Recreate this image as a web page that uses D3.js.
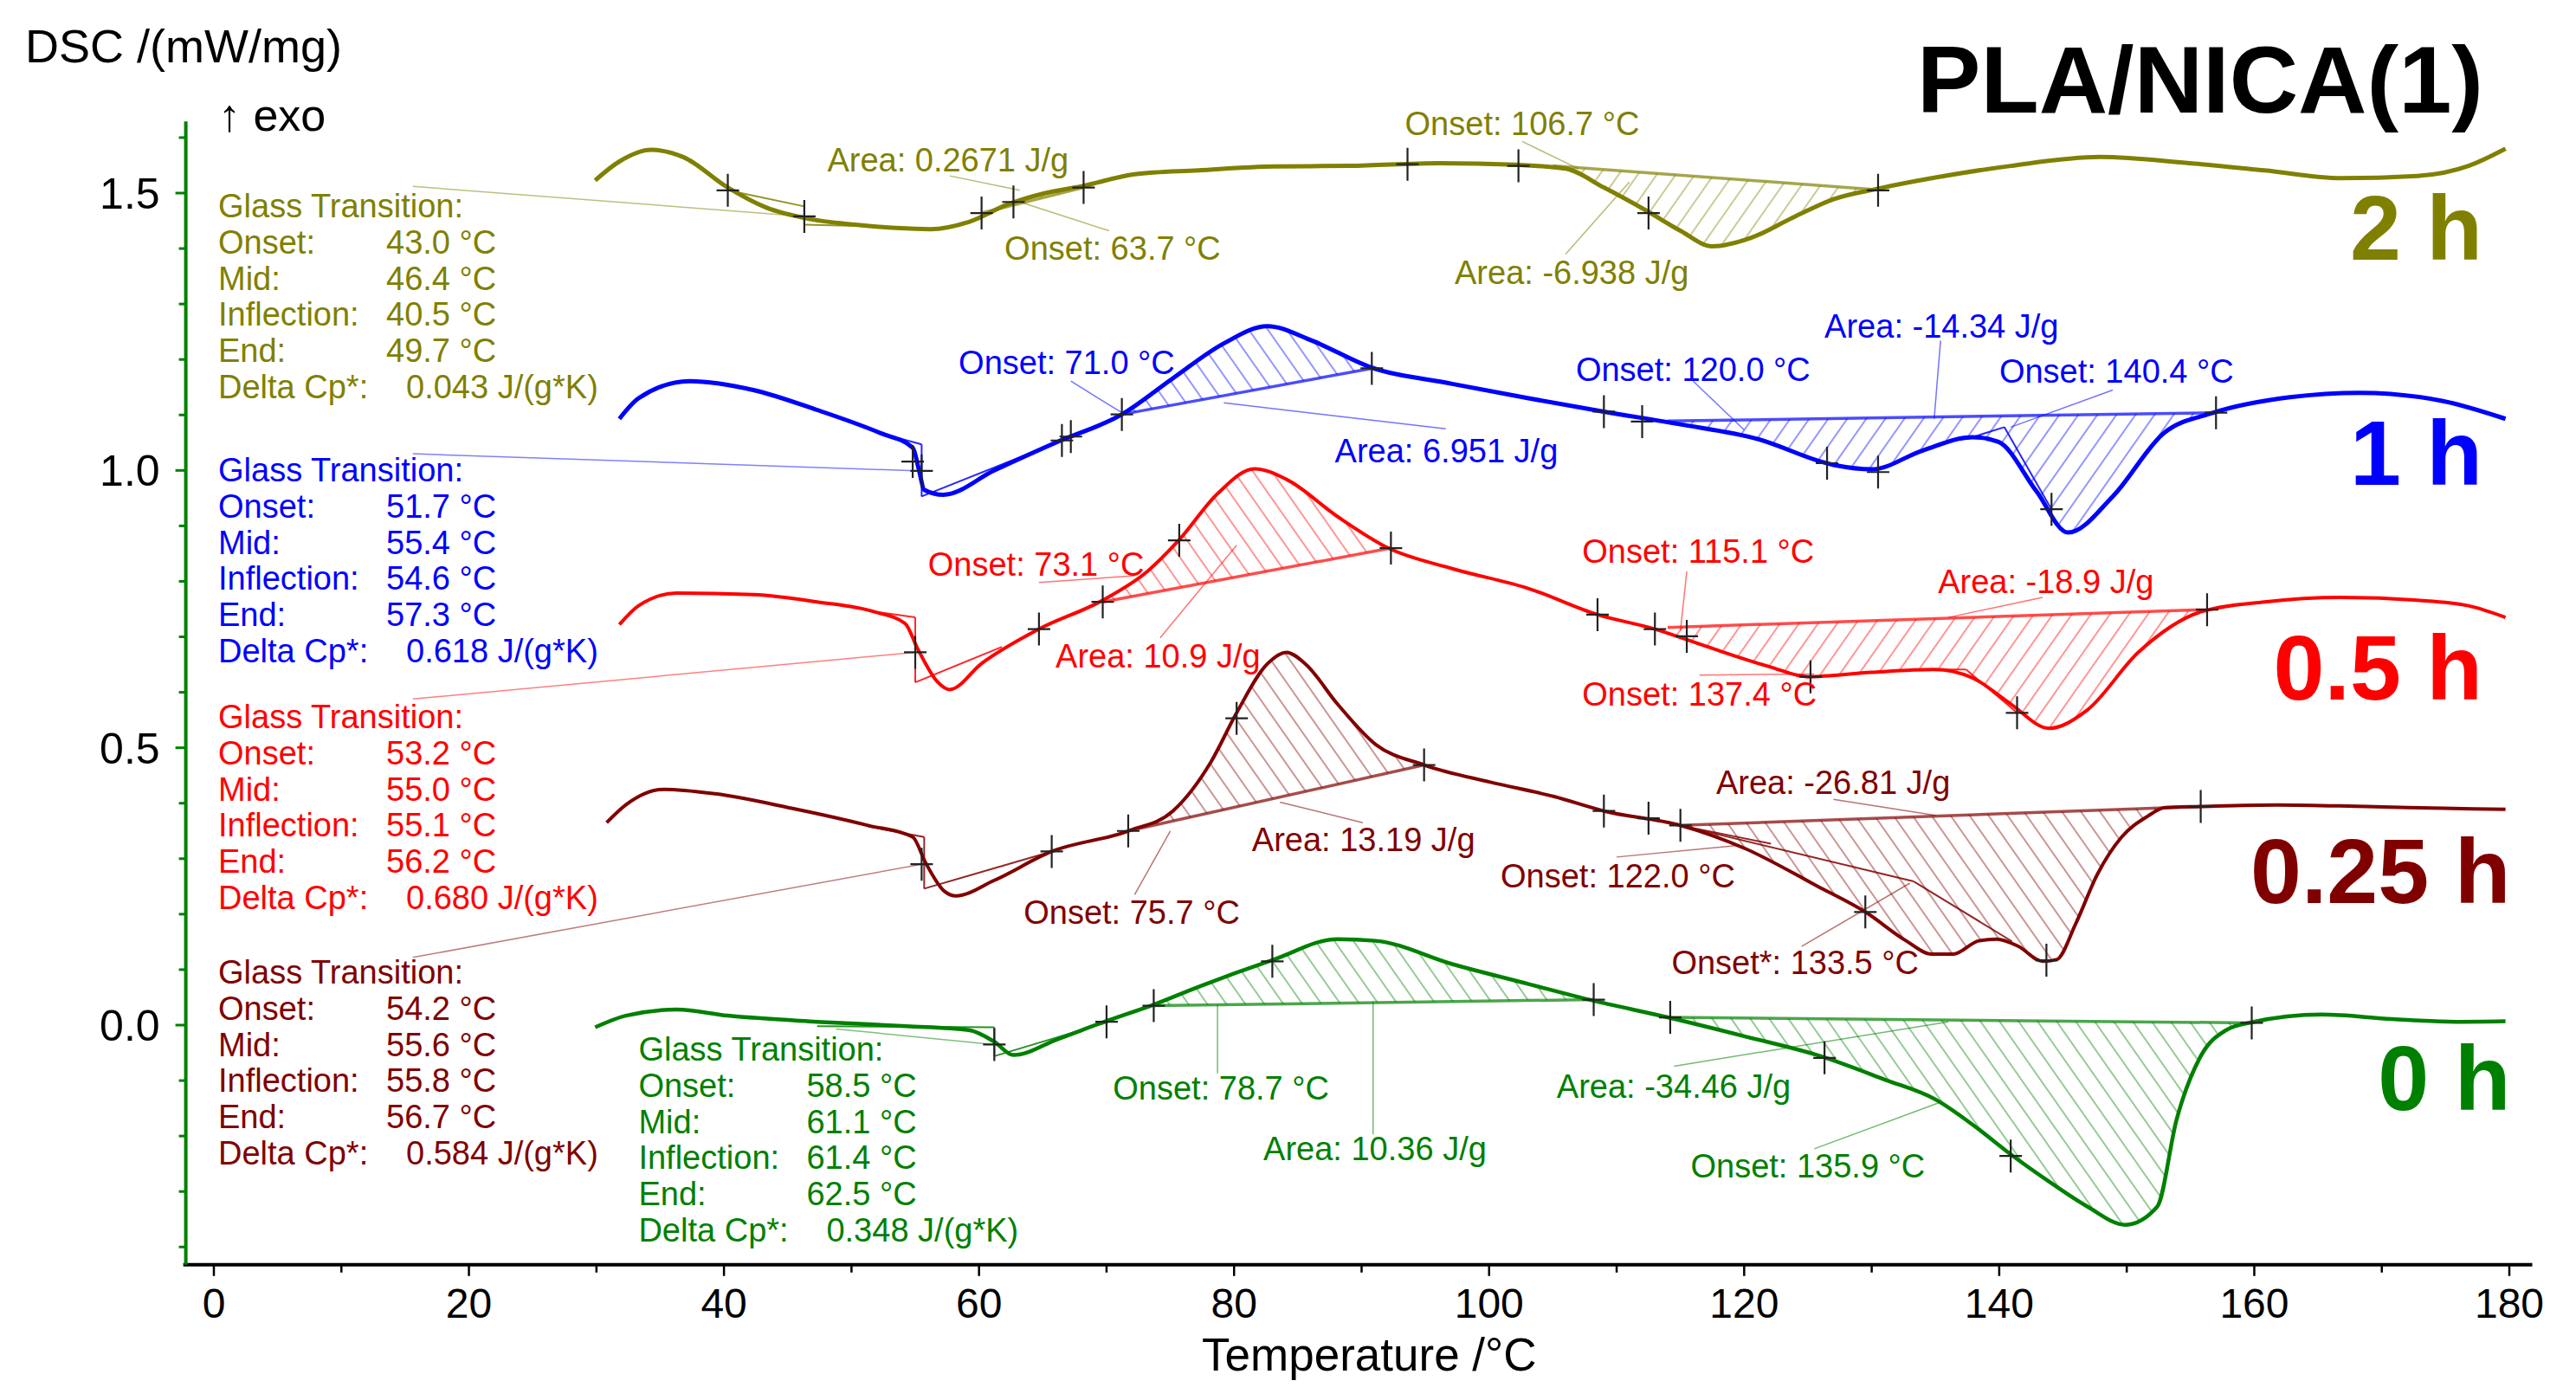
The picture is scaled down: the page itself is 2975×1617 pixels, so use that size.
<!DOCTYPE html>
<html><head><meta charset="utf-8">
<script src="https://cdn.jsdelivr.net/npm/d3@7/dist/d3.min.js"></script>
<style>
html,body{margin:0;padding:0;background:#fff;}
svg{display:block;font-family:"Liberation Sans",Arial,Helvetica,sans-serif;}
</style></head><body>
<svg id="chart" width="2975" height="1617"></svg>
<script>
// ---------------- DATA ----------------
const xTicks = d3.range(0, 181, 10);
const yTicks = d3.range(-0.4, 1.61, 0.1).map(d => Math.round(d * 10) / 10);
const gtLabels = ['Glass Transition:', 'Onset:', 'Mid:', 'Inflection:', 'End:', 'Delta Cp*:'];

// 2 h
const temp2h = [29.9,31.8,34.3,36.8,40.3,43.3,46.8,50.3,53.5,56.2,59.2,62.2,65.2,68.2,72.2,77.2,83.1,89.1,96.1,102.1,106.0,109.0,112.5,115.0,117.5,120.5,124.0,127.0,130.5,135.0,140.9,147.9,154.9,160.8,166.8,172.8,176.8,179.7];
const dsc2h  = [1.523,1.557,1.578,1.565,1.510,1.474,1.453,1.443,1.437,1.435,1.448,1.479,1.500,1.513,1.534,1.541,1.548,1.549,1.554,1.551,1.544,1.510,1.466,1.432,1.404,1.419,1.458,1.489,1.508,1.528,1.549,1.565,1.554,1.541,1.527,1.531,1.549,1.580];
// 1 h
const temp1h = [31.8,33.3,37.3,42.3,47.3,52.3,54.8,55.3,55.7,57.2,61.2,66.2,71.2,75.2,79.2,82.6,86.1,90.6,97.1,103.1,109.0,115.0,121.0,127.0,130.0,134.0,137.9,139.9,142.9,145.4,148.9,152.9,156.8,162.8,168.3,174.8,179.7];
const dsc1h  = [1.093,1.130,1.161,1.145,1.109,1.067,1.041,1.000,0.965,0.956,1.000,1.052,1.101,1.166,1.229,1.260,1.234,1.187,1.156,1.130,1.106,1.083,1.057,1.010,1.002,1.036,1.060,1.052,0.963,0.888,0.953,1.067,1.104,1.132,1.140,1.125,1.093];
// 0.5 h
const temp05h = [31.8,33.3,36.3,42.3,47.3,51.8,54.2,55.2,56.7,57.7,60.2,64.7,69.7,73.2,75.7,78.7,81.6,84.1,88.1,92.1,97.1,103.1,108.5,113.0,117.0,122.0,125.0,130.0,134.9,137.9,140.9,143.9,146.9,150.9,155.8,160.8,166.8,172.8,176.8,179.7];
const dsc05h  = [0.722,0.756,0.779,0.776,0.763,0.745,0.724,0.678,0.620,0.605,0.652,0.714,0.766,0.818,0.875,0.958,1.003,0.984,0.917,0.860,0.823,0.787,0.740,0.714,0.683,0.646,0.628,0.636,0.641,0.626,0.579,0.535,0.568,0.672,0.745,0.763,0.771,0.766,0.756,0.735];
// 0.25 h
const temp025h = [30.8,32.3,35.3,39.3,45.3,51.3,54.8,55.8,57.3,58.2,61.2,65.7,71.7,75.2,78.2,80.2,82.6,84.1,85.6,88.1,91.1,94.9,100.1,105.1,109.0,115.0,120.1,125.7,129.5,132.7,134.7,136.4,138.4,139.8,141.5,143.4,144.5,146.0,147.7,149.6,151.6,153.0,155.8,161.8,168.8,174.8,179.7];
const dsc025h  = [0.365,0.397,0.425,0.417,0.391,0.360,0.339,0.293,0.241,0.233,0.261,0.313,0.350,0.386,0.475,0.563,0.651,0.672,0.651,0.579,0.506,0.469,0.438,0.412,0.386,0.360,0.318,0.251,0.204,0.152,0.128,0.128,0.152,0.155,0.142,0.115,0.118,0.183,0.272,0.339,0.376,0.392,0.394,0.397,0.394,0.391,0.389];
// 0 h
const temp0h = [29.9,32.3,36.3,40.3,47.3,54.3,59.2,61.2,62.7,66.2,70.2,73.7,77.2,83.1,88.1,91.1,97.1,103.1,108.0,114.0,120.0,126.0,131.0,135.0,138.0,140.9,143.9,146.9,149.9,152.4,153.9,155.8,157.8,159.8,165.3,170.8,175.8,179.7];
const dsc0h  = [-0.004,0.017,0.028,0.017,0.006,-0.002,-0.009,-0.030,-0.054,-0.025,0.009,0.037,0.069,0.118,0.155,0.152,0.110,0.074,0.045,0.014,-0.020,-0.056,-0.098,-0.134,-0.181,-0.233,-0.282,-0.327,-0.360,-0.327,-0.171,-0.056,-0.009,0.005,0.019,0.011,0.006,0.007];

// evaluation markers (+) [T, DSC]
const markers2h = [[40.3,1.505],[46.3,1.458],[60.2,1.464],[62.7,1.484],[68.2,1.510],[93.6,1.552],[102.3,1.549],[112.5,1.464],[130.5,1.505]];
const markers1h = [[54.8,1.016],[55.5,0.999],[66.5,1.054],[67.2,1.061],[71.2,1.101],[90.8,1.184],[109.0,1.106],[112.0,1.088],[126.5,1.013],[130.5,0.997],[144.1,0.930],[157.0,1.104]];
const markers05h = [[55.0,0.672],[64.7,0.714],[69.7,0.763],[75.7,0.874],[92.3,0.860],[108.5,0.740],[113.0,0.714],[115.5,0.701],[125.2,0.628],[141.4,0.563],[156.3,0.749]];
const markers025h = [[55.5,0.290],[65.7,0.313],[71.7,0.350],[80.2,0.553],[94.9,0.469],[109.0,0.386],[112.5,0.373],[115.0,0.360],[129.5,0.204],[143.7,0.117],[155.8,0.394]];
const markers0h = [[61.2,-0.035],[70.0,0.006],[73.7,0.035],[83.0,0.115],[108.2,0.046],[114.2,0.014],[126.3,-0.059],[140.9,-0.236],[159.8,0.004]];

// peak areas: baseline from [T1,v1] to [T2,v2]; hatch direction
const areas2h = [[60.2,1.464,68.2,1.510,'back'],[105.0,1.549,130.5,1.506,'fwd']];
const areas1h = [[71.2,1.101,90.8,1.184,'back'],[114.0,1.089,157.0,1.104,'fwd']];
const areas05h = [[69.7,0.763,92.3,0.860,'back'],[114.0,0.717,156.3,0.749,'fwd']];
const areas025h = [[71.7,0.350,94.9,0.469,'back'],[115.0,0.360,155.8,0.394,'back']];
const areas0h = [[73.7,0.035,108.2,0.046,'back'],[114.2,0.014,159.8,0.004,'back']];

// evaluation tangent lines [[T,DSC],[T,DSC]]
const tang2h = [[[40.3,1.505],[46.3,1.476]],[[46.3,1.476],[46.3,1.443]],[[46.3,1.443],[52.0,1.440]]];
const tang1h = [[[52.3,1.067],[55.5,1.047]],[[55.5,1.047],[55.5,0.953]],[[55.5,0.953],[66.5,1.054]],[[137.9,1.060],[140.4,1.078]],[[140.4,1.078],[144.1,0.930]]];
const tang05h = [[[52.0,0.745],[55.0,0.735]],[[55.0,0.735],[55.0,0.618]],[[55.0,0.618],[61.8,0.682]],[[134.9,0.641],[137.4,0.641]],[[137.4,0.641],[141.4,0.563]]];
const tang025h = [[[51.3,0.358],[55.7,0.339]],[[55.7,0.339],[55.7,0.246]],[[55.7,0.246],[65.7,0.313]],[[115.0,0.360],[122.1,0.327]],[[115.0,0.360],[133.3,0.259]],[[133.3,0.259],[141.0,0.151]]];
const tang0h = [[[47.3,-0.002],[61.2,-0.004]],[[61.2,-0.004],[61.2,-0.056]],[[61.2,-0.056],[70.2,0.006]]];

// result labels: text, T, DSC, leader from, leader to
const notes2h = [
  ['Area: 0.2671 J/g',48.1,1.560,[57.7,1.531],[63.2,1.505]],
  ['Onset: 63.7 °C',62.0,1.401,[70.2,1.432],[63.2,1.484]],
  ['Onset: 106.7 °C',93.4,1.625,[102.6,1.593],[107.0,1.544]],
  ['Area: -6.938 J/g',97.3,1.357,[106.0,1.390],[111.0,1.520]]
];
const notes1h = [
  ['Onset: 71.0 °C',58.4,1.195,[67.2,1.161],[71.2,1.104]],
  ['Area: 6.951 J/g',87.9,1.036,[96.6,1.075],[79.2,1.122]],
  ['Onset: 120.0 °C',106.8,1.182,[116.0,1.161],[120.0,1.073]],
  ['Area: -14.34 J/g',126.3,1.260,[135.4,1.234],[134.9,1.093]],
  ['Onset: 140.4 °C',140.0,1.179,[148.9,1.145],[140.9,1.078]]
];
const notes05h = [
  ['Onset: 73.1 °C',56.0,0.831,[64.7,0.798],[72.2,0.810]],
  ['Area: 10.9 J/g',66.0,0.665,[74.2,0.698],[80.2,0.865]],
  ['Onset: 115.1 °C',107.3,0.854,[115.5,0.818],[115.0,0.711]],
  ['Area: -18.9 J/g',135.2,0.800,[143.4,0.771],[136.0,0.735]],
  ['Onset: 137.4 °C',107.3,0.597,[116.5,0.631],[125.5,0.633]]
];
const notes025h = [
  ['Area: 13.19 J/g',81.4,0.334,[90.1,0.365],[83.6,0.402]],
  ['Onset: 75.7 °C',63.5,0.204,[72.2,0.235],[75.0,0.350]],
  ['Onset: 122.0 °C',100.9,0.269,[110.0,0.303],[119.5,0.324]],
  ['Area: -26.81 J/g',117.8,0.438,[127.0,0.407],[135.0,0.378]],
  ['Onset*: 133.5 °C',114.3,0.113,[124.5,0.142],[133.0,0.256]]
];
const notes0h = [
  ['Onset: 78.7 °C',70.5,-0.113,[78.7,-0.087],[78.7,0.037]],
  ['Area: 10.36 J/g',82.3,-0.223,[90.9,-0.197],[90.9,0.043]],
  ['Area: -34.46 J/g',105.3,-0.111,[114.5,-0.074],[136.0,0.006]],
  ['Onset: 135.9 °C',115.8,-0.254,[125.5,-0.223],[135.4,-0.139]]
];

// glass transition result values
const gt2h = ['43.0 °C','46.4 °C','40.5 °C','49.7 °C','0.043 J/(g*K)'];
const gt1h = ['51.7 °C','55.4 °C','54.6 °C','57.3 °C','0.618 J/(g*K)'];
const gt05h = ['53.2 °C','55.0 °C','55.1 °C','56.2 °C','0.680 J/(g*K)'];
const gt025h = ['54.2 °C','55.6 °C','55.8 °C','56.7 °C','0.584 J/(g*K)'];
const gt0h = ['58.5 °C','61.1 °C','61.4 °C','62.5 °C','0.348 J/(g*K)'];

const series = [
  {name:'2 h', color:'#808000', sw:5, temp:temp2h, dsc:dsc2h, markers:markers2h, areas:areas2h, tang:tang2h, notes:notes2h, gt:gt2h, gtAt:[0.34,1.4765], gtLead:[[15.6,1.512],[46.3,1.458]], label:[177.9,1.380]},
  {name:'1 h', color:'#0000ff', sw:5, temp:temp1h, dsc:dsc1h, markers:markers1h, areas:areas1h, tang:tang1h, notes:notes1h, gt:gt1h, gtAt:[0.34,1.0005], gtLead:[[15.6,1.030],[55.5,0.999]], label:[177.9,0.974]},
  {name:'0.5 h', color:'#ff0000', sw:4, temp:temp05h, dsc:dsc05h, markers:markers05h, areas:areas05h, tang:tang05h, notes:notes05h, gt:gt05h, gtAt:[0.34,0.5556], gtLead:[[15.6,0.588],[55.0,0.672]], label:[177.9,0.587]},
  {name:'0.25 h', color:'#800000', sw:4, temp:temp025h, dsc:dsc025h, markers:markers025h, areas:areas025h, tang:tang025h, notes:notes025h, gt:gt025h, gtAt:[0.34,0.0952], gtLead:[[15.6,0.122],[55.5,0.290]], label:[180.1,0.220]},
  {name:'0 h', color:'#008000', sw:4.5, temp:temp0h, dsc:dsc0h, markers:markers0h, areas:areas0h, tang:tang0h, notes:notes0h, gt:gt0h, gtAt:[33.3,-0.0437], gtLead:[[48.8,-0.007],[61.2,-0.035]], label:[180.1,-0.153]}
];

// ---------------- CHART ----------------
const svg = d3.select('#chart');
const x = d3.scaleLinear().domain([0, 180]).range([247, 2898]);
const y = d3.scaleLinear().domain([0, 1.5]).range([1184, 223]);
const FONT = 38, LINEH = 41.7;
const defs = svg.append('defs');

series.forEach((s, i) => {
  [['fwd', 35], ['back', -35]].forEach(([dir, ang]) => {
    const p = defs.append('pattern').attr('id', `h${i}${dir}`)
      .attr('patternUnits', 'userSpaceOnUse').attr('width', 18).attr('height', 18)
      .attr('patternTransform', `rotate(${ang})`);
    p.append('line').attr('x1', 9).attr('y1', -2).attr('x2', 9).attr('y2', 20)
      .attr('stroke', s.color).attr('stroke-width', 1.5).attr('stroke-opacity', 0.55);
  });
});

// axes
const axisY = y(-0.432);
const axisX = x(-2.2);
// x axis
const gx = svg.append('g');
gx.append('line').attr('x1', x(-2.4)).attr('x2', x(181.8)).attr('y1', axisY).attr('y2', axisY)
  .attr('stroke', '#000').attr('stroke-width', 4);
gx.selectAll('line.t').data(xTicks).join('line').attr('class', 't')
  .attr('x1', d => x(d)).attr('x2', d => x(d)).attr('y1', axisY)
  .attr('y2', d => axisY + (d % 20 === 0 ? 13 : 9)).attr('stroke', '#000').attr('stroke-width', 2.5);
gx.selectAll('text').data(xTicks.filter(d => d % 20 === 0)).join('text')
  .attr('x', d => x(d)).attr('y', axisY + 61).attr('text-anchor', 'middle')
  .attr('font-size', 48).attr('fill', '#000').text(d => d);
svg.append('text').attr('x', x(90.6)).attr('y', 1583).attr('text-anchor', 'middle')
  .attr('font-size', 53).attr('fill', '#000').text('Temperature /°C');

// y axis (green)
const gy = svg.append('g');
gy.append('line').attr('x1', axisX).attr('x2', axisX).attr('y1', y(1.629)).attr('y2', axisY)
  .attr('stroke', '#008000').attr('stroke-width', 4);
gy.selectAll('line.t').data(yTicks).join('line').attr('class', 't')
  .attr('x1', axisX).attr('x2', d => axisX - (Math.abs(d * 2 - Math.round(d * 2)) < 1e-6 ? 12 : 8))
  .attr('y1', d => y(d)).attr('y2', d => y(d)).attr('stroke', '#008000').attr('stroke-width', 3);
gy.selectAll('text').data([0, 0.5, 1.0, 1.5]).join('text')
  .attr('x', axisX - 30).attr('y', d => y(d)).attr('dy', '0.36em').attr('text-anchor', 'end')
  .attr('font-size', 50).attr('fill', '#000').text(d => d.toFixed(1));

svg.append('text').attr('x', 29).attr('y', 72).attr('font-size', 54).attr('fill', '#000').text('DSC /(mW/mg)');
svg.append('text').attr('x', 252).attr('y', 151).attr('font-size', 52).attr('fill', '#000').text('↑ exo');
svg.append('text').attr('x', 2868).attr('y', 130).attr('text-anchor', 'end').attr('font-size', 110)
  .attr('font-weight', 'bold').attr('fill', '#000').text('PLA/NICA(1)');

const line = d3.line().x(d => x(d[0])).y(d => y(d[1])).curve(d3.curveMonotoneX);
function interp(s, t) {
  const i = d3.bisectLeft(s.temp, t);
  if (i <= 0) return s.dsc[0];
  if (i >= s.temp.length) return s.dsc[s.temp.length - 1];
  const t0 = s.temp[i - 1], t1 = s.temp[i];
  const f = (t - t0) / (t1 - t0);
  return s.dsc[i - 1] + f * (s.dsc[i] - s.dsc[i - 1]);
}

series.forEach((s, i) => {
  const g = svg.append('g');
  const pts = s.temp.map((t, k) => [t, s.dsc[k]]);
  // hatched areas
  s.areas.forEach(([t1, v1, t2, v2, dir]) => {
    const inner = pts.filter(p => p[0] > t1 && p[0] < t2);
    const top = [[t1, interp(s, t1)], ...inner, [t2, interp(s, t2)]];
    const base = (t) => v1 + (t - t1) / (t2 - t1) * (v2 - v1);
    const area = d3.area().x(d => x(d[0])).y0(d => y(base(d[0]))).y1(d => y(d[1])).curve(d3.curveMonotoneX);
    g.append('path').attr('d', area(top)).attr('fill', `url(#h${i}${dir})`).attr('stroke', 'none');
    g.append('line').attr('x1', x(t1)).attr('y1', y(v1)).attr('x2', x(t2)).attr('y2', y(v2))
      .attr('stroke', s.color).attr('stroke-width', 3.5).attr('stroke-opacity', 0.7);
  });
  // tangent lines
  s.tang.forEach(([a, b]) => {
    g.append('line').attr('x1', x(a[0])).attr('y1', y(a[1])).attr('x2', x(b[0])).attr('y2', y(b[1]))
      .attr('stroke', s.color).attr('stroke-width', 2).attr('stroke-opacity', 0.85);
  });
  // leader lines
  s.notes.forEach(n => {
    g.append('line').attr('x1', x(n[3][0])).attr('y1', y(n[3][1])).attr('x2', x(n[4][0])).attr('y2', y(n[4][1]))
      .attr('stroke', s.color).attr('stroke-width', 1.5).attr('stroke-opacity', 0.55);
  });
  g.append('line').attr('x1', x(s.gtLead[0][0])).attr('y1', y(s.gtLead[0][1]))
    .attr('x2', x(s.gtLead[1][0])).attr('y2', y(s.gtLead[1][1]))
    .attr('stroke', s.color).attr('stroke-width', 1.5).attr('stroke-opacity', 0.5);
  // curve
  g.append('path').attr('d', line(pts)).attr('fill', 'none').attr('stroke', s.color)
    .attr('stroke-width', s.sw).attr('stroke-linejoin', 'round');
  // markers
  g.selectAll('path.m').data(s.markers).join('path').attr('class', 'm')
    .attr('d', d => `M${x(d[0]) - 13},${y(d[1])}h26M${x(d[0])},${y(d[1]) - 19}v38`)
    .attr('stroke', '#222').attr('stroke-width', 2.2).attr('fill', 'none');
  // note labels
  g.selectAll('text.n').data(s.notes).join('text').attr('class', 'n')
    .attr('x', d => x(d[1])).attr('y', d => y(d[2])).attr('dy', '0.35em')
    .attr('font-size', FONT).attr('fill', s.color).text(d => d[0]);
  // glass transition block
  const bx = x(s.gtAt[0]), by = y(s.gtAt[1]);
  gtLabels.forEach((lab, k) => {
    g.append('text').attr('x', bx).attr('y', by + k * LINEH).attr('dy', '0.35em')
      .attr('font-size', FONT).attr('fill', s.color).text(lab);
    if (k > 0) {
      g.append('text').attr('x', bx + (k === 5 ? 217 : 194)).attr('y', by + k * LINEH).attr('dy', '0.35em')
        .attr('font-size', FONT).attr('fill', s.color).text(s.gt[k - 1]);
    }
  });
  // series label
  g.append('text').attr('x', x(s.label[0])).attr('y', y(s.label[1])).attr('text-anchor', 'end')
    .attr('font-size', 106).attr('font-weight', 'bold').attr('fill', s.color).text(s.name);
});
</script>
</body></html>
